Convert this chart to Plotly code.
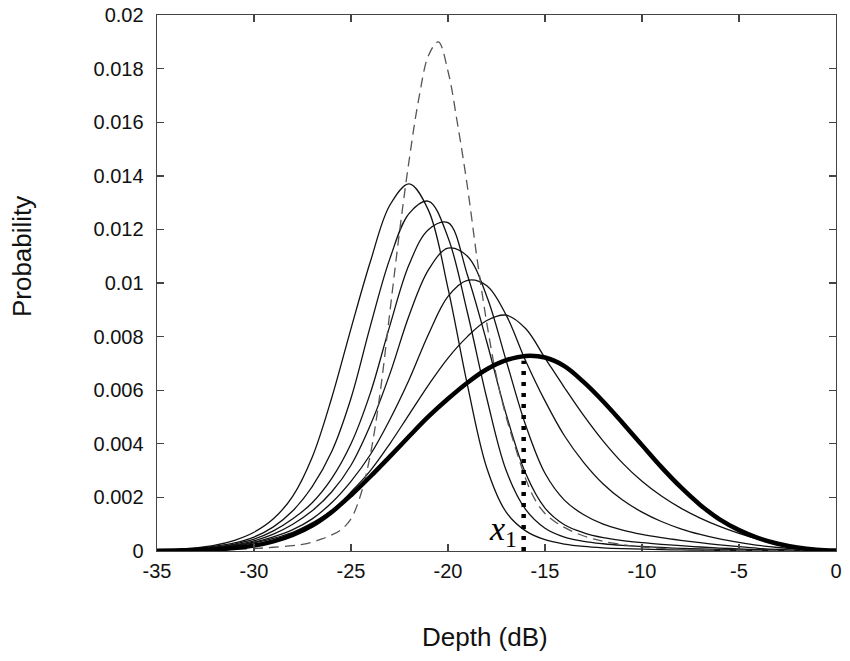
import plotly.graph_objects as go

# ---- data ----
depth_db = [-35, -34, -33, -32, -31, -30, -29, -28, -27, -26, -25, -24, -23, -22, -21, -20, -19, -18,
            -17, -16, -15, -14, -13, -12, -11, -10, -9, -8, -7, -6, -5, -4, -3, -2, -1, 0]

curve_1 = [0.00003, 0.00006, 0.00012, 0.00022, 0.0004, 0.0007, 0.0012, 0.00205, 0.0035, 0.0057, 0.0083, 0.0108,
           0.0129, 0.0137, 0.0127, 0.0098, 0.0062, 0.0031, 0.00145, 0.00075, 0.00042, 0.00026, 0.00017, 0.00012,
           0.00009, 0.00007, 0.00005, 0.00004, 0.00003, 0.00002, 0.000015, 0.00001, 0.00001, 0, 0, 0]

curve_2 = [0.00003, 0.00005, 0.0001, 0.00018, 0.0003, 0.00052, 0.0009, 0.0015, 0.0024, 0.0037, 0.0057, 0.0084,
           0.0109, 0.0126, 0.01305, 0.0117, 0.0089, 0.0057, 0.0030, 0.00155, 0.00085, 0.00052, 0.00036, 0.00027,
           0.00021, 0.00017, 0.00013, 0.0001, 0.00008, 0.00006, 0.00004, 0.00003, 0.00002, 0.00001, 0.00001, 0]

curve_3 = [0.00002, 0.00004, 0.00008, 0.00015, 0.00026, 0.00044, 0.00075, 0.0012, 0.0018, 0.0027, 0.0040, 0.0059,
           0.0084, 0.0107, 0.0120, 0.01225, 0.0103, 0.0078, 0.0051, 0.0029, 0.0016, 0.00098, 0.00068, 0.0005,
           0.00039, 0.00031, 0.00025, 0.0002, 0.00015, 0.00011, 0.00008, 0.00005, 0.00003, 0.00002, 0.00001, 0.00001]

curve_4 = [0.00002, 0.00004, 0.00007, 0.00013, 0.00023, 0.00038, 0.00063, 0.001, 0.0015, 0.0022, 0.0032, 0.0047,
           0.0066, 0.0088, 0.0105, 0.0113, 0.0110, 0.0095, 0.0071, 0.0047, 0.0029, 0.0019, 0.00135, 0.001,
           0.00078, 0.00062, 0.0005, 0.0004, 0.00031, 0.00023, 0.00016, 0.0001, 0.00006, 0.00003, 0.00002, 0.00001]

curve_5 = [0.00002, 0.00003, 0.00006, 0.00011, 0.0002, 0.00033, 0.00053, 0.0008, 0.0012, 0.0018, 0.0026, 0.0036,
           0.0049, 0.0064, 0.0081, 0.0095, 0.0101, 0.0099, 0.0088, 0.0071, 0.0056, 0.0043, 0.0033, 0.0025,
           0.0019, 0.00145, 0.0011, 0.00083, 0.00062, 0.00045, 0.00032, 0.00021, 0.00013, 0.00007, 0.00003, 0.00001]

curve_6 = [0.00001, 0.00003, 0.00005, 0.0001, 0.00018, 0.0003, 0.00047, 0.0007, 0.00105, 0.0015, 0.0022, 0.003,
           0.004, 0.0051, 0.0062, 0.0072, 0.008, 0.0086, 0.0088, 0.0083, 0.0072, 0.0061, 0.00505, 0.0041,
           0.00328, 0.0026, 0.00205, 0.0016, 0.00123, 0.00092, 0.00066, 0.00044, 0.00026, 0.00013, 0.00005, 0.00002]

curve_bold = [0.00001, 0.00002, 0.00004, 0.00006, 0.00011, 0.0002, 0.00036, 0.0006, 0.00095, 0.00145, 0.00208, 0.00278,
              0.00352, 0.00428, 0.00502, 0.00568, 0.00628, 0.00678, 0.00712, 0.00728, 0.00722, 0.0069, 0.0063, 0.00558,
              0.00478, 0.00395, 0.00313, 0.00238, 0.00172, 0.00118, 0.00078, 0.00048, 0.00027, 0.00013, 0.00005, 0.00002]

dashed_db = [-35, -34, -33, -32, -31, -30, -29, -28, -27.5, -27, -26.5, -26, -25.5, -25, -24.5, -24, -23.5, -23,
             -22.5, -22, -21.5, -21, -20.5, -20, -19.5, -19, -18.5, -18, -17.5, -17, -16.5, -16, -15.5, -15,
             -14.5, -14, -13.5, -13, -12.5, -12, -11, -10, -9, -8, -7, -6, -5, -4, -3, -2, -1, 0]
dashed_curve = [0.00001, 0.00002, 0.00003, 0.00004, 0.00006, 0.00009, 0.00014, 0.0002, 0.00025, 0.00033, 0.00045,
                0.0006, 0.0008, 0.0012, 0.0021, 0.0036, 0.0059, 0.0089, 0.0119, 0.0146, 0.0169, 0.0185, 0.0190,
                0.0179, 0.0159, 0.0136, 0.0109, 0.0085, 0.0065, 0.0050, 0.0038, 0.0027, 0.0019, 0.0014, 0.0011,
                0.00088, 0.0007, 0.00056, 0.00045, 0.00036, 0.00024, 0.00015, 0.0001, 0.00006, 0.00004, 0.00003,
                0.00002, 0.00001, 0.00001, 0, 0, 0]

x1_value = -16.1
x1_top = 0.0071

x_tick_vals = [-35, -30, -25, -20, -15, -10, -5, 0]
x_tick_text = ["-35", "-30", "-25", "-20", "-15", "-10", "-5", "0"]
y_tick_vals = [0, 0.002, 0.004, 0.006, 0.008, 0.01, 0.012, 0.014, 0.016, 0.018, 0.02]
y_tick_text = ["0", "0.002", "0.004", "0.006", "0.008", "0.01", "0.012", "0.014", "0.016", "0.018", "0.02"]

x_title = "Depth (dB)"
y_title = "Probability"

# ---- figure ----
fig = go.Figure()

thin = dict(color="#111111", width=1.3, shape="spline", smoothing=1.0)
for ys in [curve_1, curve_2, curve_3, curve_4, curve_5, curve_6]:
    fig.add_trace(go.Scatter(x=depth_db, y=ys, mode="lines", line=thin, showlegend=False, hoverinfo="skip"))

fig.add_trace(go.Scatter(x=dashed_db, y=dashed_curve, mode="lines",
                         line=dict(color="#555555", width=1.3, dash="10px,6px", shape="spline", smoothing=1.0),
                         showlegend=False, hoverinfo="skip"))

fig.add_trace(go.Scatter(x=depth_db, y=curve_bold, mode="lines",
                         line=dict(color="#000000", width=4.5, shape="spline", smoothing=1.0),
                         showlegend=False, hoverinfo="skip"))

fig.add_trace(go.Scatter(x=[x1_value, x1_value], y=[0, x1_top], mode="lines",
                         line=dict(color="#000000", width=4.5, dash="4px,7px"),
                         showlegend=False, hoverinfo="skip"))

fig.add_annotation(x=x1_value, y=0, xref="x", yref="y", text="<i>x</i><sub>1</sub>",
                   showarrow=False, xanchor="right", yanchor="bottom", xshift=-5, yshift=-3,
                   font=dict(family="Liberation Serif", size=34, color="#000000"))

title_font = dict(family="Liberation Sans", size=26, color="#111111")
fig.add_annotation(x=0.483, y=-0.160, xref="paper", yref="paper", text=x_title, showarrow=False,
                   xanchor="center", yanchor="middle", font=title_font)
fig.add_annotation(x=-0.199, y=0.550, xref="paper", yref="paper", text=y_title, showarrow=False,
                   textangle=-90, xanchor="center", yanchor="middle", font=title_font)

axis_common = dict(showgrid=False, zeroline=False, showline=True, mirror="ticks", linecolor="#444444",
                   linewidth=1.4, ticks="inside", ticklen=7, tickwidth=1.4, tickcolor="#444444",
                   tickfont=dict(family="Liberation Sans", size=20, color="#111111"))

fig.update_xaxes(range=[-35, 0], tickvals=x_tick_vals, ticktext=x_tick_text, ticklabelstandoff=2, **axis_common)
fig.update_yaxes(range=[0, 0.02], tickvals=y_tick_vals, ticktext=y_tick_text, ticklabelstandoff=8, **axis_common)

fig.update_layout(width=850, height=661, margin=dict(l=157, r=14, t=15, b=110, autoexpand=False),
                  plot_bgcolor="white", paper_bgcolor="white", hovermode=False)

# remove the page's default 8px body margin so the figure fills the window like the reference
fig.write_html("out.html", config={"displayModeBar": False, "staticPlot": True},
               post_script="document.body.style.margin='0';")
